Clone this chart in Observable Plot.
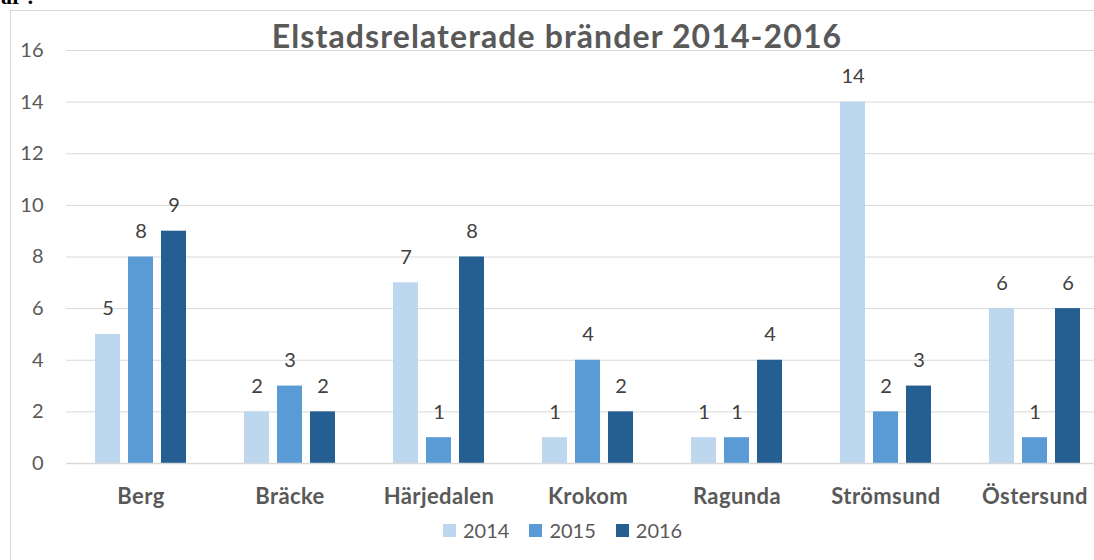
<!DOCTYPE html>
<html><head><meta charset="utf-8">
<script src="https://cdn.jsdelivr.net/npm/d3@7"></script>
<script src="https://cdn.jsdelivr.net/npm/@observablehq/plot@0.6"></script>
<style>
html,body{margin:0;padding:0;width:1094px;height:560px;overflow:hidden;background:#fff;font-family:Lato,sans-serif;}
#pre{position:absolute;left:1px;top:-16px;font-family:"Liberation Serif",serif;font-size:22px;font-weight:bold;color:#000;white-space:nowrap;}
#frame{position:absolute;left:10px;top:10px;width:1200px;height:700px;border:1px solid #d9d9d9;box-sizing:border-box;}
#chart{position:absolute;left:0;top:0;width:1200px;}
#title{position:absolute;left:0;top:20px;width:1114px;text-align:center;font-size:32px;line-height:32px;letter-spacing:1.1px;font-weight:bold;color:#595959;white-space:nowrap;}
#legend{position:absolute;left:443px;top:519px;display:flex;align-items:center;font-size:20px;line-height:22px;color:#595959;}
#legend .item{display:flex;align-items:center;margin-right:20px;}
#legend .sw{width:13px;height:13px;margin-right:7px;}
#chart svg g[aria-label="x-axis tick label"] text{font-weight:bold;letter-spacing:0.4px;}
</style>
</head><body>
<div id="pre">ar :</div>
<div id="frame"></div>
<div id="chart"></div>
<div id="title">Elstadsrelaterade bränder 2014-2016</div>
<div id="legend"></div>
<script>
const categories = ["Berg","Bräcke","Härjedalen","Krokom","Ragunda","Strömsund","Östersund"];
const years = ["2014","2015","2016"];
const v2014 = [5,2,7,1,1,14,6];
const v2015 = [8,3,1,4,1,2,1];
const v2016 = [9,2,8,2,4,3,6];
const yTicks = [0,2,4,6,8,10,12,14,16];
const colors = ["#BDD7EE","#5B9BD5","#255E91"];

const series = [v2014, v2015, v2016];
const rows = [];
years.forEach((yr, i) => categories.forEach((c, j) => rows.push({kommun: c, year: yr, value: series[i][j]})));

const pitch = 33;
const marks = [
  Plot.gridY(yTicks, {stroke: "#d9d9d9", strokeOpacity: 1, strokeWidth: 1})
];
years.forEach((yr, i) => {
  const d = rows.filter(r => r.year === yr);
  marks.push(Plot.barY(d, {x: "kommun", y: "value", fill: "year", dx: (i - 1) * pitch, insetLeft: 62, insetRight: 62}));
  marks.push(Plot.text(d, {x: "kommun", y: "value", text: d => String(d.value), dx: (i - 1) * pitch, dy: -19, lineAnchor: "bottom", fontSize: 20, fill: "#404040"}));
});
marks.push(Plot.ruleY([0], {stroke: "#d9d9d9", strokeWidth: 1.5}));
marks.push(Plot.axisY(yTicks, {tickSize: 0, tickPadding: 23, fontSize: 20, fill: "#595959"}));
marks.push(Plot.axisX({tickSize: 0, tickPadding: 25, fontSize: 22, fontWeight: "bold", fill: "#595959"}));

const chart = Plot.plot({
  width: 1109,
  height: 520,
  marginLeft: 66,
  marginRight: 0,
  marginTop: 50,
  marginBottom: 57,
  style: {maxWidth: "none", fontFamily: "Lato, sans-serif", background: "transparent", overflow: "visible"},
  x: {domain: categories, padding: 0, label: null},
  y: {domain: [0, 16], label: null},
  color: {domain: years, range: colors},
  marks
});
document.getElementById("chart").appendChild(chart);

const legend = document.getElementById("legend");
years.forEach((yr, i) => {
  const it = document.createElement("div");
  it.className = "item";
  const sw = document.createElement("div");
  sw.className = "sw";
  sw.style.background = colors[i];
  const t = document.createElement("span");
  t.textContent = yr;
  it.appendChild(sw); it.appendChild(t);
  legend.appendChild(it);
});
</script>
</body></html>
